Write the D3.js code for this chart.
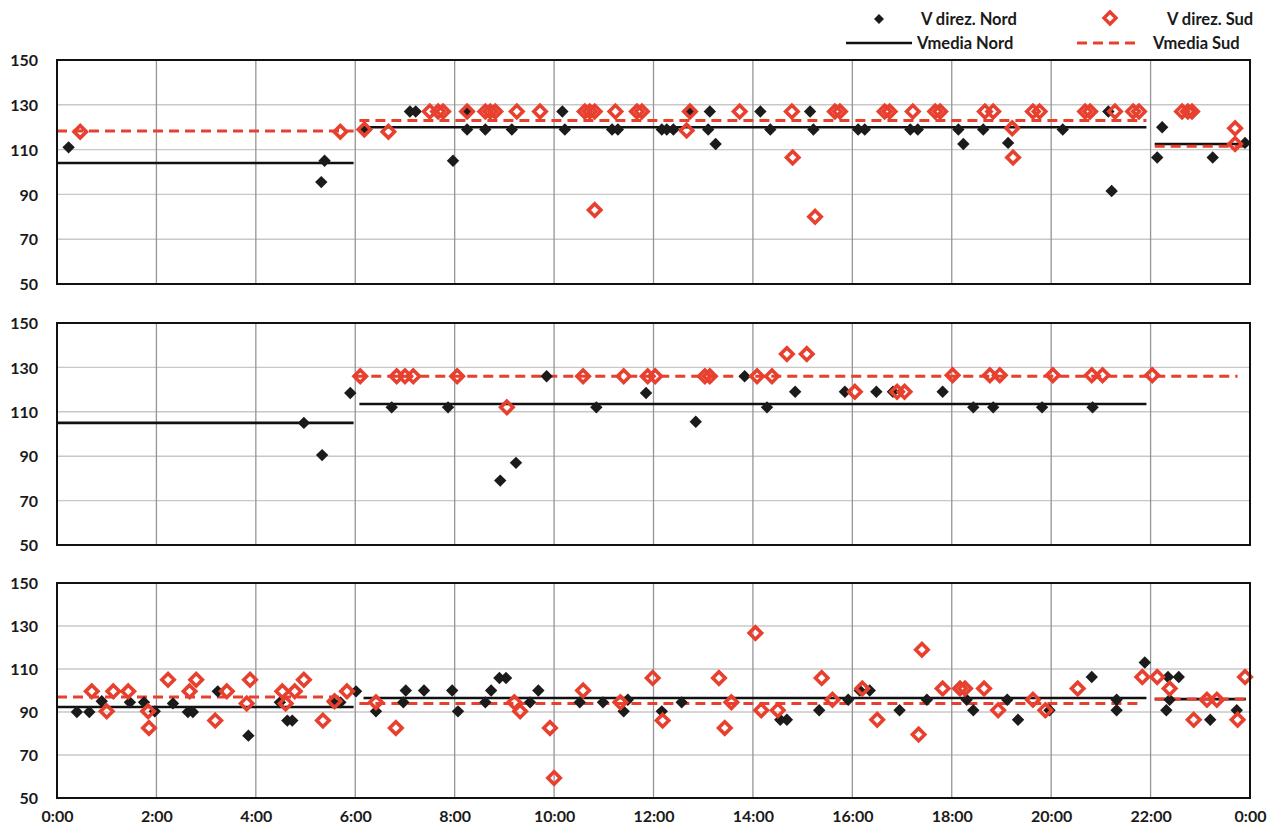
<!DOCTYPE html>
<html>
<head>
<meta charset="utf-8">
<script src="https://cdn.jsdelivr.net/npm/d3@7"></script>
<style>
  html, body { margin: 0; padding: 0; background: #ffffff; }
  svg { display: block; font-family: "Lato", "Liberation Sans", sans-serif; }
</style>
</head>
<body>
<svg id="chart" width="1281" height="836"></svg>
<script>
// Axis ticks
const yTicks = [50, 70, 90, 110, 130, 150];
const hourTicks = [0, 2, 4, 6, 8, 10, 12, 14, 16, 18, 20, 22, 24];
const hourLabels = ["0:00", "2:00", "4:00", "6:00", "8:00", "10:00", "12:00", "14:00", "16:00", "18:00", "20:00", "22:00", "0:00"];

// Legend entries
const legendNames = ["V direz. Nord", "V direz. Sud", "Vmedia Nord", "Vmedia Sud"];

// ---- Panel 1: single speed readings [time, km/h] ----
const nordP1 = [
  ["0:14",111],["5:19",95.5],["5:23",105],["6:11",119],["7:06",127],["7:13",127],["7:58",105],
  ["8:15",119],["8:15",127],["8:37",119],["9:09",119],["10:10",127],["10:13",119],["11:10",119],
  ["11:17",119],["12:10",119],["12:16",119],["12:24",119],["12:44",127],["13:06",119],["13:08",127],
  ["13:15",112.5],["14:09",127],["14:21",119],["15:09",127],["15:13",119],["16:07",119],["16:15",119],
  ["17:10",119],["17:19",119],["18:08",119],["18:14",112.5],["18:38",119],["19:08",113],["20:14",119],
  ["21:09",127],["21:13",91.5],["22:08",106.5],["22:14",120],["23:15",106.5],["23:54",113]
];
const sudP1 = [
  ["0:28",118],["5:42",118],["6:11",119],["6:40",118],["7:30",127],["7:40",127],["7:46",127],
  ["8:15",127],["8:37",127],["8:43",127],["8:49",127],["9:15",127],["9:43",127],["10:37",127],
  ["10:43",127],["10:49",127],["10:49",83],["11:14",127],["11:40",127],["11:46",127],["12:40",118.5],
  ["12:44",127],["13:44",127],["14:47",127],["14:48",106.5],["15:15",80],["15:39",127],["15:45",127],
  ["16:39",127],["16:45",127],["17:13",127],["17:40",127],["17:46",127],["18:40",127],["18:50",127],
  ["19:13",119.5],["19:14",106.5],["19:38",127],["19:46",127],["20:41",127],["20:47",127],["21:17",127],
  ["21:39",127],["21:46",127],["22:38",127],["22:45",127],["22:50",127],["23:42",119.5],["23:42",112.5]
];
// Mean speed per time band [from, to, km/h]
const meanNordP1 = [["0:00","5:58",104],["6:10","21:55",120],["22:05","23:55",112.5]];
const meanSudP1 = [["0:00","5:58",118.3],["6:05","21:55",123],["22:05","23:55",111.5]];

// ---- Panel 2 ----
const nordP2 = [
  ["4:58",105],["5:20",90.5],["5:54",118.5],["6:44",112],["7:52",112],["8:55",79],["9:14",87],
  ["9:51",126],["10:51",112],["11:51",118.5],["12:51",105.5],["13:50",126],["14:17",112],["14:51",119],
  ["15:51",119],["16:29",119],["16:49",119],["17:49",119],["18:26",112],["18:50",112],["19:49",112],
  ["20:50",112]
];
const sudP2 = [
  ["6:06",126],["6:50",126],["7:00",126],["7:10",126],["8:03",126],["9:03",112],["10:35",126],
  ["11:24",126],["11:53",126],["12:02",126],["13:02",126],["13:08",126],["14:05",126],["14:23",126],
  ["14:41",136],["15:05",136],["16:03",119],["16:54",119],["17:03",119],["18:01",126.5],["18:46",126.5],
  ["18:58",126.5],["20:02",126.5],["20:49",126.5],["21:02",126.5],["22:02",126.5]
];
const meanNordP2 = [["0:00","5:58",105],["6:05","21:55",113.5]];
const meanSudP2 = [["6:00","23:45",126]];

// ---- Panel 3 ----
const nordP3 = [
  ["0:24",90],["0:39",90],["0:54",95],["1:28",94.5],["1:45",94.5],["1:58",90.3],["2:20",94],
  ["2:38",90],["2:44",90],["3:14",99.6],["3:51",79],["4:29",94.5],["4:38",86],["4:44",86],
  ["5:33",94.5],["5:42",94.5],["6:01",99.6],["6:25",90.3],["6:58",94.5],["7:01",100],["7:23",100],
  ["7:57",100],["8:04",90.3],["8:37",94.5],["8:44",100],["8:54",105.8],["9:02",105.8],["9:31",94.5],
  ["9:41",100],["10:31",94.5],["10:59",94.5],["11:24",90.3],["11:29",95.7],["12:10",90.3],["12:34",94.5],
  ["14:33",86.4],["14:41",86.4],["15:20",90.8],["15:55",95.7],["16:09",100],["16:21",100],["16:57",90.8],
  ["17:30",95.7],["18:18",95.7],["18:26",90.8],["19:07",95.7],["19:20",86.4],["19:58",90.8],["20:49",106.3],
  ["21:19",95.7],["21:19",90.8],["21:53",113],["22:19",90.8],["22:23",95.7],["22:21",106.3],["22:34",106.3],
  ["23:12",86.4],["23:44",90.8]
];
const sudP3 = [
  ["0:42",99.6],["1:00",90.3],["1:08",99.6],["1:26",99.6],["1:50",90.3],["1:51",82.6],["2:14",105],
  ["2:40",99.6],["2:48",105],["3:11",86],["3:25",99.6],["3:49",94],["3:53",105],["4:32",99.6],
  ["4:36",94],["4:47",99.6],["4:58",105],["5:21",86],["5:35",95],["5:50",99.6],["6:25",94.5],
  ["6:49",82.6],["9:12",94.5],["9:19",90.3],["9:55",82.6],["10:00",59.3],["10:35",100],["11:20",94.5],
  ["11:59",105.8],["12:11",86],["13:19",105.8],["13:26",82.6],["13:34",94.5],["14:03",126.7],["14:10",90.8],
  ["14:30",90.8],["15:23",105.8],["15:36",95.7],["16:12",100.9],["16:30",86.4],["17:20",79.5],["17:24",119],
  ["17:49",100.9],["18:10",100.9],["18:16",100.9],["18:39",100.9],["18:56",90.8],["19:38",95.7],["19:53",90.8],
  ["20:32",100.9],["21:50",106.3],["22:08",106.3],["22:23",100.9],["22:52",86.4],["23:08",95.7],["23:20",95.7],
  ["23:45",86.4],["23:54",106.3]
];
const meanNordP3 = [["0:00","5:58",92.3],["6:10","21:55",96.5],["22:05","23:55",96]];
const meanSudP3 = [["0:00","5:52",97],["6:05","21:50",94],["22:05","23:55",96]];

// ---------------------------------------------------------------
const RED = "#e8402f";
const svg = d3.select("#chart");

const toHours = s => { const [h, m] = s.split(":").map(Number); return h + m / 60; };

const x = d3.scaleLinear().domain([0, 24]).range([57, 1250]);

const panels = [
  { top: 60,  bottom: 284, nord: nordP1, sud: sudP1, mNord: meanNordP1, mSud: meanSudP1, xAxis: false },
  { top: 323, bottom: 545, nord: nordP2, sud: sudP2, mNord: meanNordP2, mSud: meanSudP2, xAxis: false },
  { top: 583, bottom: 798, nord: nordP3, sud: sudP3, mNord: meanNordP3, mSud: meanSudP3, xAxis: true }
];

const diamond = r => `M0,${-r}L${r},0L0,${r}L${-r},0Z`;

panels.forEach(p => {
  const y = d3.scaleLinear().domain([50, 150]).range([p.bottom, p.top]);
  const g = svg.append("g");

  // horizontal grid
  g.selectAll("line.hg").data(yTicks.filter(v => v > 50 && v < 150)).join("line")
    .attr("x1", x(0)).attr("x2", x(24))
    .attr("y1", d => y(d)).attr("y2", d => y(d))
    .attr("stroke", "#c8c8c8").attr("stroke-width", 1.4);

  // vertical grid (every 2 h)
  g.selectAll("line.vg").data(hourTicks.filter(h => h > 0 && h < 24)).join("line")
    .attr("x1", d => x(d)).attr("x2", d => x(d))
    .attr("y1", p.top).attr("y2", p.bottom)
    .attr("stroke", "#959595").attr("stroke-width", 1.3);

  // y axis labels
  const ya = g.append("g").attr("transform", `translate(${x(0) - 19},0)`)
    .call(d3.axisLeft(y).tickValues(yTicks).tickSize(0).tickPadding(0));
  ya.select(".domain").remove();
  ya.selectAll("text").attr("font-size", 16).attr("font-weight", 700)
    .attr("fill", "#1a1a1a").attr("font-family", "Lato, sans-serif").attr("dy", "0.36em");

  // x axis labels
  if (p.xAxis) {
    const xa = g.append("g").attr("transform", `translate(0,${p.bottom + 13})`)
      .call(d3.axisBottom(x).tickValues(hourTicks).tickSize(0).tickPadding(0)
        .tickFormat((d, i) => hourLabels[i]));
    xa.select(".domain").remove();
    xa.selectAll("text").attr("font-size", 16).attr("font-weight", 700)
      .attr("fill", "#1a1a1a").attr("font-family", "Lato, sans-serif");
  }

  // mean lines
  g.selectAll("line.mn").data(p.mNord).join("line")
    .attr("x1", d => x(toHours(d[0]))).attr("x2", d => x(toHours(d[1])))
    .attr("y1", d => y(d[2])).attr("y2", d => y(d[2]))
    .attr("stroke", "#111").attr("stroke-width", 2.6);
  g.selectAll("line.ms").data(p.mSud).join("line")
    .attr("x1", d => x(toHours(d[0]))).attr("x2", d => x(toHours(d[1])))
    .attr("y1", d => y(d[2])).attr("y2", d => y(d[2]))
    .attr("stroke", RED).attr("stroke-width", 3).attr("stroke-dasharray", "10,6");

  // Nord readings: filled black diamonds
  g.selectAll("path.n").data(p.nord).join("path")
    .attr("d", diamond(6.2))
    .attr("transform", d => `translate(${x(toHours(d[0]))},${y(d[1])})`)
    .attr("fill", "#1b1b1b");

  // Sud readings: hollow red diamonds
  g.selectAll("path.s").data(p.sud).join("path")
    .attr("d", diamond(6.2))
    .attr("transform", d => `translate(${x(toHours(d[0]))},${y(d[1])})`)
    .attr("fill", "none").attr("stroke", RED).attr("stroke-width", 3.6)
    .attr("stroke-linejoin", "miter");

  // frame
  g.append("rect").attr("x", x(0)).attr("y", p.top)
    .attr("width", x(24) - x(0)).attr("height", p.bottom - p.top)
    .attr("fill", "none").attr("stroke", "#111").attr("stroke-width", 2);
});

// ---- legend ----
const lg = svg.append("g").attr("font-family", "Lato, sans-serif").attr("font-size", 16.5)
  .attr("font-weight", 700).attr("fill", "#1a1a1a");
lg.append("path").attr("d", diamond(5)).attr("transform", "translate(879,19)").attr("fill", "#1b1b1b");
lg.append("text").attr("x", 921).attr("y", 25).text(legendNames[0]);
lg.append("path").attr("d", diamond(6)).attr("transform", "translate(1110,18)")
  .attr("fill", "none").attr("stroke", RED).attr("stroke-width", 3.4);
lg.append("text").attr("x", 1167).attr("y", 25).text(legendNames[1]);
lg.append("line").attr("x1", 846).attr("x2", 912).attr("y1", 43).attr("y2", 43)
  .attr("stroke", "#111").attr("stroke-width", 2.6);
lg.append("text").attr("x", 917).attr("y", 49).text(legendNames[2]);
lg.append("line").attr("x1", 1077).attr("x2", 1140).attr("y1", 43).attr("y2", 43)
  .attr("stroke", RED).attr("stroke-width", 3).attr("stroke-dasharray", "10,6");
lg.append("text").attr("x", 1153).attr("y", 49).text(legendNames[3]);
</script>
</body>
</html>
